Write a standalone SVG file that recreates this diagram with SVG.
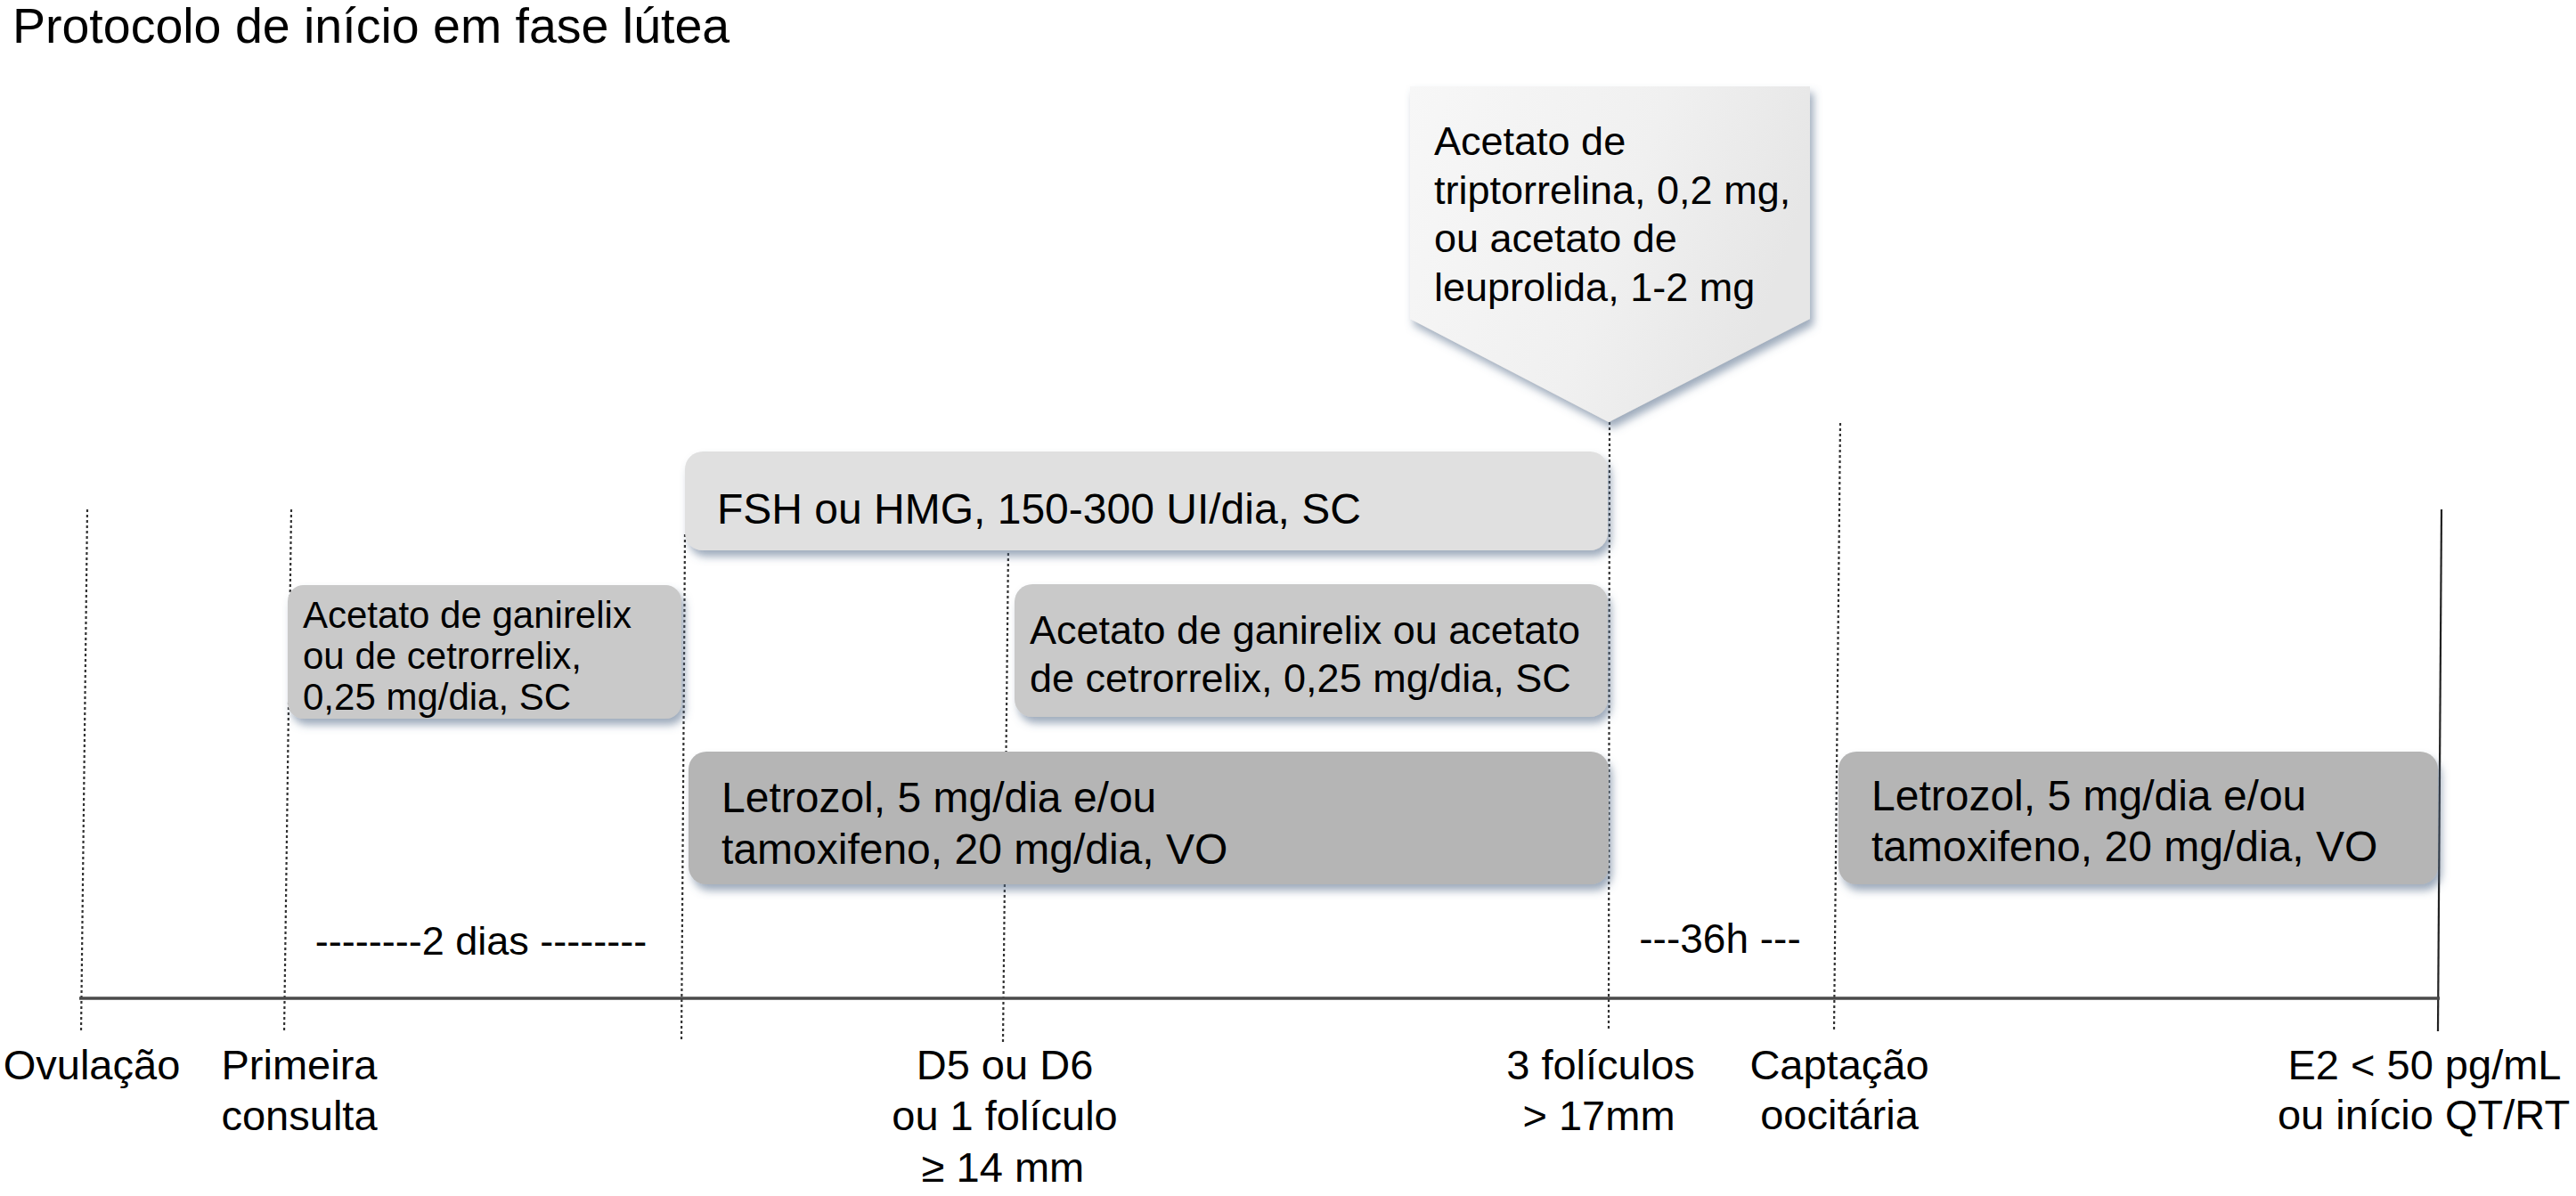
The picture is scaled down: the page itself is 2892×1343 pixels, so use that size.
<svg xmlns="http://www.w3.org/2000/svg" width="2892" height="1343" viewBox="0 0 2892 1343">
<style>
text{font-family:"Liberation Sans",Arial,Helvetica,sans-serif;fill:#000}
.t45{font-size:45px}
.t42{font-size:42px}
.t47{font-size:48px}
.lbl{font-size:47px;text-anchor:middle}
.dot{stroke:#333;stroke-width:2.2;stroke-dasharray:3 3;fill:none}
.solid{stroke:#222;stroke-width:2.2;fill:none}
.axis{stroke:#4a4a4a;stroke-width:3.5;fill:none}
.light{fill:#e0e0e0}
.mid{fill:#c9c9c9}
.dark{fill:#b5b5b5}
</style>
<defs>
<filter id="sh" x="-5%" y="-10%" width="115%" height="140%">
<feDropShadow dx="4" dy="7" stdDeviation="5" flood-color="#4f6785" flood-opacity="0.55"/>
</filter>
<linearGradient id="pg" x1="0" y1="0" x2="1" y2="0.3">
<stop offset="0" stop-color="#f7f7f7"/>
<stop offset="0.6" stop-color="#f0f0f0"/>
<stop offset="1" stop-color="#e6e6e6"/>
</linearGradient>
</defs>
<rect width="2892" height="1343" fill="#fff"/>
<g id="title"><text x="14" y="48" style="font-size:55.5px">Protocolo de início em fase lútea</text></g>
<g id="connectors">
<line class="dot" x1="98" y1="572" x2="91" y2="1160"/>
<line class="dot" x1="327" y1="572" x2="319" y2="1160"/>
<line class="dot" x1="769" y1="600" x2="765" y2="1170"/>
<line class="dot" x1="1132" y1="615" x2="1126" y2="1170"/>
<line class="dot" x1="1807" y1="474" x2="1806" y2="1158"/>
<line class="dot" x1="2066" y1="475" x2="2059" y2="1158"/>
<line class="solid" x1="2741" y1="572" x2="2737" y2="1158"/>
<line class="axis" x1="89" y1="1121" x2="2739" y2="1121"/>
</g>
<g id="trigger">
<polygon points="1583,97 2032,97 2032,358 1806,474 1583,358" fill="url(#pg)" filter="url(#sh)"/>
<text class="t45" x="1610" y="174">Acetato de</text>
<text class="t45" x="1610" y="229">triptorrelina, 0,2 mg,</text>
<text class="t45" x="1610" y="283">ou acetato de</text>
<text class="t45" x="1610" y="338">leuprolida, 1-2 mg</text>
</g>
<g id="fsh">
<rect class="light" x="769" y="507" width="1036" height="111" rx="20" filter="url(#sh)"/>
<text class="t47" x="805" y="588">FSH ou HMG, 150-300 UI/dia, SC</text>
</g>
<g id="antagonist-early">
<rect class="mid" x="323" y="657" width="442" height="150" rx="18" filter="url(#sh)"/>
<text class="t42" x="340" y="705">Acetato de ganirelix</text>
<text class="t42" x="340" y="751">ou de cetrorrelix,</text>
<text class="t42" x="340" y="797">0,25 mg/dia, SC</text>
</g>
<g id="antagonist">
<rect class="mid" x="1139" y="656" width="666" height="149" rx="20" filter="url(#sh)"/>
<text class="t45" x="1156" y="723">Acetato de ganirelix ou acetato</text>
<text class="t45" x="1156" y="777">de cetrorrelix, 0,25 mg/dia, SC</text>
</g>
<g id="letrozol-1">
<rect class="dark" x="773" y="844" width="1033" height="149" rx="20" filter="url(#sh)"/>
<text class="t47" x="810" y="912">Letrozol, 5 mg/dia e/ou</text>
<text class="t47" x="810" y="970">tamoxifeno, 20 mg/dia, VO</text>
</g>
<g id="letrozol-2">
<rect class="dark" x="2064" y="844" width="673" height="149" rx="20" filter="url(#sh)"/>
<text class="t47" x="2101" y="910">Letrozol, 5 mg/dia e/ou</text>
<text class="t47" x="2101" y="967">tamoxifeno, 20 mg/dia, VO</text>
</g>
<g id="interval-2dias"><text x="540" y="1072" style="font-size:45px;text-anchor:middle">--------2 dias --------</text></g>
<g id="interval-36h"><text x="1931" y="1070" style="font-size:46px;text-anchor:middle">---36h ---</text></g>
<g id="m-ovulacao"><text class="lbl" x="103" y="1212">Ovulação</text></g>
<g id="m-primeira"><text class="lbl" x="336" y="1212">Primeira</text><text class="lbl" x="336" y="1269">consulta</text></g>
<g id="m-d5"><text class="lbl" x="1128" y="1212">D5 ou D6</text><text class="lbl" x="1128" y="1269">ou 1 folículo</text><text class="lbl" x="1126" y="1327">≥ 14 mm</text></g>
<g id="m-3fol"><text class="lbl" x="1797" y="1212">3 folículos</text><text class="lbl" x="1795" y="1269">&gt; 17mm</text></g>
<g id="m-captacao"><text class="lbl" x="2065" y="1212">Captação</text><text class="lbl" x="2065" y="1268">oocitária</text></g>
<g id="m-e2"><text class="lbl" x="2722" y="1212">E2 &lt; 50 pg/mL</text><text class="lbl" x="2721" y="1268">ou início QT/RT</text></g>
</svg>
